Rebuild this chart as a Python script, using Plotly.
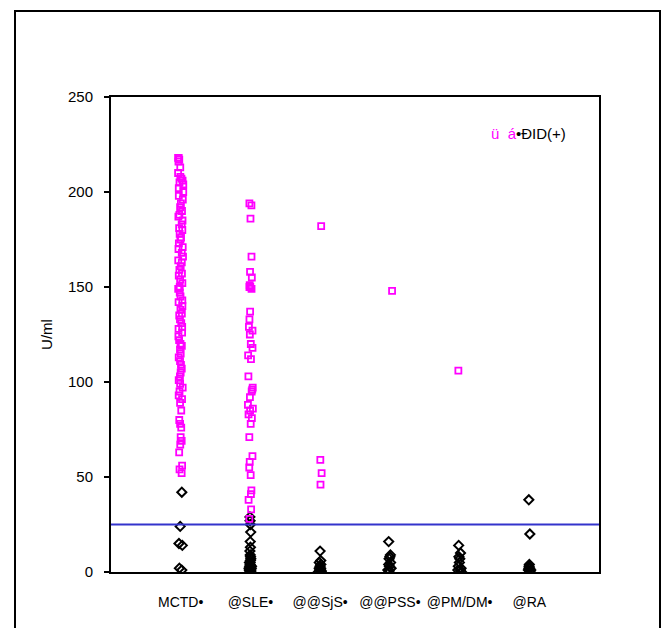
import plotly.graph_objects as go

CATEGORIES = ["MCTD", "SLE", "SjS", "PSS", "PM/DM", "RA"]
TICK_TEXT = ["MCTD•", "@SLE•", "@@SjS•", "@@PSS•", "@PM/DM•", "@RA"]
CUTOFF = 25

# positive group (magenta squares)
MCTD_POS = [218, 218, 217, 216, 213, 210, 208, 207, 206, 205, 204, 202, 200, 198, 196, 194,
            192, 190, 188, 187, 185, 183, 181, 180, 178, 176, 175, 173, 171, 170, 168, 166,
            164, 163, 161, 159, 157, 156, 154, 152, 150, 149, 147, 145, 143, 142, 140, 138,
            136, 135, 133, 131, 129, 128, 126, 124, 122, 120, 119, 117, 115, 113, 111, 109,
            107, 105, 103, 101, 99, 97, 95, 93, 91, 89, 85, 80, 78, 76, 71, 69, 67, 63,
            56, 54, 52]
SLE_POS = [194, 193, 186, 166, 158, 155, 151, 150, 150, 149, 137, 133, 129, 127, 125, 120,
           118, 114, 112, 103, 97, 96, 95, 92, 88, 86, 85, 83, 81, 78, 71, 61, 58, 55, 51,
           43, 41, 38, 33, 28]
SJS_POS = [182, 59, 52, 46]
PSS_POS = [148]
PMDM_POS = [106]
RA_POS = []

# negative group (black diamonds)
MCTD_NEG = [42, 24, 15, 14, 2, 1]
SLE_NEG = [29, 27, 25, 21, 16, 13, 11, 9, 8, 7, 6, 5, 5, 4, 3, 3, 2, 2, 1, 1, 1, 0.5, 0, 0]
SJS_NEG = [11, 6, 5, 4, 3, 2, 2, 1, 1, 0.5, 0, 0]
PSS_NEG = [16, 9, 8, 7, 5, 4, 3, 2, 1, 1, 0]
PMDM_NEG = [14, 10, 8, 7, 5, 3, 2, 1, 1, 0]
RA_NEG = [38, 20, 4, 3, 2, 2, 1, 1, 0]

pos_groups = [MCTD_POS, SLE_POS, SJS_POS, PSS_POS, PMDM_POS, RA_POS]
neg_groups = [MCTD_NEG, SLE_NEG, SJS_NEG, PSS_NEG, PMDM_NEG, RA_NEG]


def flatten(groups):
    xs, ys = [], []
    for i, g in enumerate(groups):
        xs += [i + 1] * len(g)
        ys += g
    return xs, ys


fig = go.Figure()

nx, ny = flatten(neg_groups)
fig.add_trace(go.Box(
    x=nx, y=ny, boxpoints="all", jitter=0.3, pointpos=0, width=0.2,
    fillcolor="rgba(0,0,0,0)", line=dict(width=0, color="rgba(0,0,0,0)"),
    marker=dict(symbol="diamond-open", size=7, color="black", line=dict(width=2, color="black")),
    showlegend=False, hoverinfo="y",
))
px_, py_ = flatten(pos_groups)
fig.add_trace(go.Box(
    x=px_, y=py_, boxpoints="all", jitter=0.4, pointpos=0, width=0.2,
    fillcolor="rgba(0,0,0,0)", line=dict(width=0, color="rgba(0,0,0,0)"),
    marker=dict(symbol="square-open", size=6, color="#ff00ff", line=dict(width=1.8, color="#ff00ff")),
    showlegend=False, hoverinfo="y",
))

fig.add_shape(type="line", xref="paper", yref="y", x0=0, x1=1, y0=CUTOFF, y1=CUTOFF,
              line=dict(color="#3333cc", width=2))

# outer frame (plot area spans x 111..599, y 97..572 in page pixels)
fig.add_shape(type="rect", xref="paper", yref="paper",
              x0=(15 - 111) / 488, x1=(660 - 111) / 488,
              y0=-0.2, y1=(572 - 11) / 475,
              line=dict(color="black", width=2), fillcolor="rgba(0,0,0,0)", layer="below")

FAM = "Liberation Sans, Arial, sans-serif"
font = dict(family=FAM, size=15, color="black")
xfont = dict(family=FAM, size=14, color="black")
fig.add_annotation(xref="paper", yref="paper", x=(489 - 111) / 488, y=(572 - 134) / 475,
                   xanchor="left", yanchor="middle", showarrow=False,
                   text="<span style='color:#ff00ff'>ü</span>  "
                        "<span style='color:#ff00ff'>á</span>•ÐID(+)",
                   font=font)

fig.update_layout(
    width=661, height=620,
    margin=dict(l=103, r=70, t=89, b=56, autoexpand=False),
    paper_bgcolor="white", plot_bgcolor="white",
    font=font, boxmode="overlay", showlegend=False,
    xaxis=dict(range=[0, 7], tickvals=[1, 2, 3, 4, 5, 6], ticktext=TICK_TEXT,
               showgrid=False, zeroline=False, showline=True, linecolor="black", linewidth=2,
               mirror=True, ticks="", tickangle=0, ticklabelstandoff=16, tickfont=xfont),
    yaxis=dict(range=[0, 250], tickvals=[0, 50, 100, 150, 200, 250], showgrid=False,
               zeroline=False, showline=True, linecolor="black", linewidth=2, mirror=True,
               ticks="outside", ticklen=5, tickwidth=1.5, tickcolor="black", tickfont=font,
               ticklabelstandoff=8,
               title=dict(text="U/ml", font=font, standoff=12)),
)

fig.write_html("out.html")
